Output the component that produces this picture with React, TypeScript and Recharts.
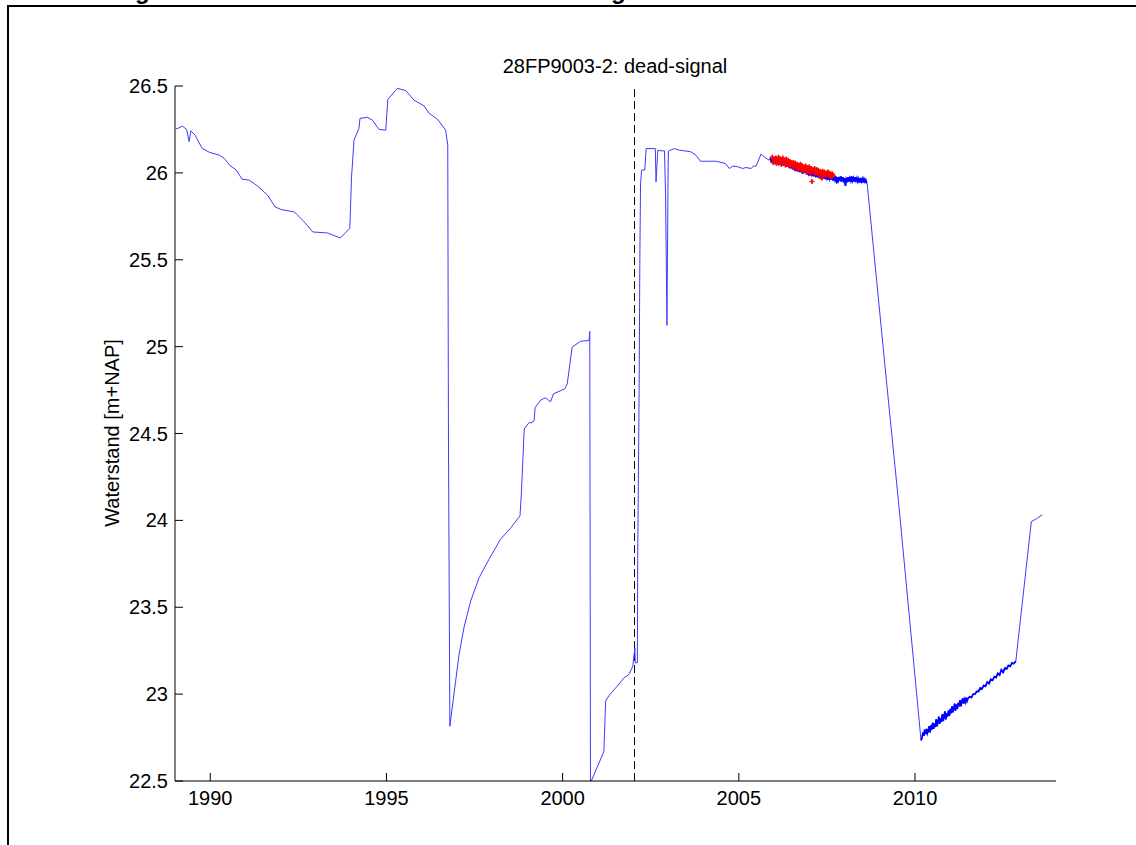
import React from 'react';
import {
  ComposedChart,
  Line,
  Scatter,
  XAxis,
  YAxis,
  ReferenceLine,
} from 'recharts';

// measured series, [year, level m+NAP]
const before1997: [number, number][] = [
  [1989.03, 26.255], [1989.08, 26.256], [1989.21, 26.269], [1989.33, 26.25], [1989.4, 26.18],
  [1989.45, 26.242], [1989.57, 26.217], [1989.77, 26.141], [1989.98, 26.118], [1990.26, 26.102],
  [1990.4, 26.083], [1990.55, 26.044], [1990.74, 26.016], [1990.9, 25.964], [1991.11, 25.958],
  [1991.35, 25.923], [1991.63, 25.871], [1991.84, 25.804], [1992.01, 25.789], [1992.39, 25.775],
  [1992.67, 25.717], [1992.91, 25.66], [1993.33, 25.654], [1993.69, 25.625], [1993.96, 25.68],
  [1994.01, 25.977], [1994.08, 26.189], [1994.22, 26.256], [1994.25, 26.314], [1994.46, 26.32],
  [1994.6, 26.304], [1994.79, 26.25], [1994.98, 26.246], [1995.04, 26.423], [1995.31, 26.487],
  [1995.55, 26.473], [1995.78, 26.419], [1996.07, 26.385], [1996.21, 26.343], [1996.45, 26.308],
  [1996.68, 26.246], [1996.74, 26.16], [1996.76, 24.48], [1996.8, 22.815],
];

const recovery1997: [number, number][] = [
  [1997.06, 23.228], [1997.2, 23.382], [1997.39, 23.536], [1997.63, 23.67], [1997.91, 23.776],
  [1998.24, 23.892], [1998.53, 23.958], [1998.79, 24.026], [1998.83, 24.16], [1998.91, 24.526],
  [1999.05, 24.564], [1999.1, 24.56], [1999.19, 24.574], [1999.22, 24.65], [1999.38, 24.693],
  [1999.45, 24.7], [1999.52, 24.705], [1999.6, 24.69], [1999.66, 24.683], [1999.74, 24.728],
  [2000.06, 24.757], [2000.13, 24.785], [2000.27, 24.997], [2000.51, 25.031], [2000.75, 25.035],
  [2000.77, 25.087], [2000.78, 23.78], [2000.79, 22.49],
];

const recovery2001: [number, number][] = [
  [2000.89, 22.536], [2001.17, 22.67], [2001.22, 22.96], [2001.31, 22.99], [2001.55, 23.046],
  [2001.74, 23.093], [2001.88, 23.113], [2001.99, 23.16], [2002.05, 23.266], [2002.06, 23.18],
  [2002.12, 23.18], [2002.13, 23.77], [2002.17, 24.747], [2002.19, 25.478], [2002.21, 25.93],
  [2002.24, 26.016], [2002.33, 26.016], [2002.37, 26.14], [2002.63, 26.14], [2002.65, 25.948],
  [2002.7, 26.13], [2002.78, 26.127], [2002.89, 26.127], [2002.92, 25.88], [2002.96, 25.122],
  [2002.99, 25.958], [2003.0, 26.125], [2003.17, 26.14],
];

const plateau2003: [number, number][] = [
  [2003.31, 26.13], [2003.46, 26.127], [2003.64, 26.121], [2003.78, 26.102], [2003.91, 26.067],
  [2004.35, 26.067], [2004.62, 26.054], [2004.73, 26.025], [2004.83, 26.039], [2004.97, 26.035],
  [2005.11, 26.025], [2005.2, 26.031], [2005.35, 26.025], [2005.41, 26.039], [2005.49, 26.039],
  [2005.63, 26.108], [2005.72, 26.092], [2005.86, 26.073],
];

// logger period, noisy daily values
const logger2006: [number, number][] = [
  [2005.9, 26.085], [2005.925, 26.06], [2005.95, 26.08], [2005.975, 26.055], [2006.0, 26.075],
  [2006.025, 26.06], [2006.05, 26.085], [2006.075, 26.05], [2006.1, 26.07], [2006.125, 26.055],
  [2006.15, 26.075], [2006.175, 26.045], [2006.2, 26.07], [2006.225, 26.05], [2006.25, 26.065],
  [2006.275, 26.04], [2006.3, 26.06], [2006.325, 26.045], [2006.35, 26.065], [2006.375, 26.035],
  [2006.4, 26.055], [2006.425, 26.03], [2006.45, 26.05], [2006.475, 26.035], [2006.5, 26.05],
  [2006.525, 26.02], [2006.55, 26.045], [2006.575, 26.025], [2006.6, 26.04], [2006.625, 26.01],
  [2006.65, 26.04], [2006.675, 26.015], [2006.7, 26.035], [2006.725, 26.005], [2006.75, 26.03],
  [2006.775, 26.01], [2006.8, 26.025], [2006.825, 25.995], [2006.85, 26.02], [2006.875, 26.0],
  [2006.9, 26.02], [2006.925, 25.99], [2006.95, 26.015], [2006.975, 25.995], [2007.0, 26.01],
  [2007.025, 25.985], [2007.05, 26.01], [2007.075, 25.99], [2007.1, 26.005], [2007.125, 25.98],
  [2007.15, 26.0], [2007.175, 25.985], [2007.2, 26.0], [2007.225, 25.975], [2007.25, 25.995],
  [2007.275, 25.98], [2007.3, 25.995], [2007.325, 25.97], [2007.35, 25.99], [2007.375, 25.975],
  [2007.4, 25.995], [2007.425, 25.965], [2007.45, 25.985], [2007.475, 25.97], [2007.5, 25.99],
  [2007.525, 25.96], [2007.55, 25.985], [2007.575, 25.965], [2007.6, 25.98], [2007.625, 25.96],
  [2007.65, 25.985], [2007.675, 25.955], [2007.7, 25.975], [2007.725, 25.96], [2007.75, 25.98],
  [2007.775, 25.94], [2007.8, 25.975], [2007.825, 25.955], [2007.85, 25.97], [2007.875, 25.96],
  [2007.9, 25.98], [2007.925, 25.95], [2007.95, 25.975], [2007.975, 25.955], [2008.0, 25.97],
  [2008.025, 25.925], [2008.05, 25.965], [2008.075, 25.955], [2008.1, 25.975], [2008.125, 25.95],
  [2008.15, 25.97], [2008.175, 25.955], [2008.2, 25.98], [2008.225, 25.955], [2008.25, 25.97],
  [2008.275, 25.95], [2008.3, 25.975], [2008.325, 25.955], [2008.35, 25.97], [2008.375, 25.95],
  [2008.4, 25.965], [2008.425, 25.945], [2008.45, 25.97], [2008.475, 25.95], [2008.5, 25.965],
  [2008.525, 25.945], [2008.55, 25.965], [2008.575, 25.95], [2008.6, 25.96], [2008.625, 25.94],
];

const drop2009: [number, number][] = [
  [2008.64, 25.94], [2008.91, 25.381], [2009.19, 24.8], [2009.53, 24.11], [2010.17, 22.734],
];

const logger2011: [number, number][] = [
  [2010.17, 22.734], [2010.2, 22.75], [2010.225, 22.78], [2010.25, 22.76], [2010.275, 22.795],
  [2010.3, 22.77], [2010.325, 22.8], [2010.35, 22.775], [2010.375, 22.79], [2010.4, 22.815],
  [2010.425, 22.78], [2010.45, 22.82], [2010.475, 22.795], [2010.5, 22.835], [2010.525, 22.8],
  [2010.55, 22.83], [2010.575, 22.81], [2010.6, 22.855], [2010.625, 22.815], [2010.65, 22.84],
  [2010.675, 22.87], [2010.7, 22.83], [2010.725, 22.86], [2010.75, 22.84], [2010.775, 22.885],
  [2010.8, 22.845], [2010.825, 22.875], [2010.85, 22.9], [2010.875, 22.855], [2010.9, 22.89],
  [2010.925, 22.87], [2010.95, 22.905], [2010.975, 22.875], [2011.0, 22.915], [2011.025, 22.89],
  [2011.05, 22.93], [2011.075, 22.895], [2011.1, 22.92], [2011.125, 22.945], [2011.15, 22.905],
  [2011.175, 22.94], [2011.2, 22.915], [2011.225, 22.95], [2011.25, 22.93], [2011.275, 22.965],
  [2011.3, 22.93], [2011.325, 22.955], [2011.35, 22.975], [2011.375, 22.945], [2011.4, 22.97],
  [2011.425, 22.955], [2011.45, 22.98], [2011.475, 22.96], [2011.5, 22.975], [2011.55, 22.985],
  [2011.6, 22.98], [2011.65, 23.0], [2011.7, 23.0], [2011.75, 23.015], [2011.8, 23.015],
  [2011.85, 23.035], [2011.9, 23.03], [2011.95, 23.05], [2012.0, 23.045], [2012.05, 23.07],
  [2012.1, 23.06], [2012.15, 23.085], [2012.2, 23.08], [2012.25, 23.1], [2012.3, 23.095],
  [2012.35, 23.12], [2012.4, 23.11], [2012.45, 23.14], [2012.5, 23.125], [2012.55, 23.15],
  [2012.6, 23.145], [2012.65, 23.165], [2012.7, 23.16], [2012.75, 23.18], [2012.8, 23.175],
  [2012.86, 23.19],
];

const rise2013: [number, number][] = [
  [2013.3, 23.993], [2013.45, 24.01], [2013.61, 24.032],
];

// points flagged as dead signal
const flagged: [number, number][] = [
  [2005.95, 26.09], [2005.975, 26.06], [2006.0, 26.08], [2006.025, 26.065], [2006.05, 26.085],
  [2006.075, 26.055], [2006.1, 26.075], [2006.125, 26.09], [2006.15, 26.06], [2006.175, 26.08],
  [2006.2, 26.05], [2006.225, 26.075], [2006.25, 26.085], [2006.275, 26.055], [2006.3, 26.07],
  [2006.325, 26.045], [2006.35, 26.08], [2006.375, 26.06], [2006.4, 26.07], [2006.425, 26.04],
  [2006.45, 26.065], [2006.475, 26.05], [2006.5, 26.06], [2006.525, 26.035], [2006.55, 26.06],
  [2006.575, 26.045], [2006.6, 26.055], [2006.625, 26.03], [2006.65, 26.05], [2006.675, 26.02],
  [2006.7, 26.045], [2006.725, 26.03], [2006.75, 26.05], [2006.775, 26.02], [2006.8, 26.04],
  [2006.825, 26.01], [2006.85, 26.035], [2006.875, 26.025], [2006.9, 26.04], [2006.925, 26.005],
  [2006.95, 26.03], [2006.975, 26.015], [2007.0, 26.035], [2007.025, 26.0], [2007.05, 26.025],
  [2007.075, 25.95], [2007.1, 26.02], [2007.125, 26.005], [2007.15, 26.025], [2007.175, 25.995],
  [2007.2, 26.02], [2007.225, 26.0], [2007.25, 26.015], [2007.275, 25.99], [2007.3, 26.01],
  [2007.325, 25.995], [2007.35, 25.97], [2007.375, 26.01], [2007.4, 25.99], [2007.425, 26.005],
  [2007.45, 25.985], [2007.475, 26.0], [2007.5, 25.99], [2007.525, 26.005], [2007.55, 25.985],
  [2007.575, 26.0], [2007.6, 25.99], [2007.625, 25.975], [2007.65, 25.995], [2007.675, 25.985],
];

const sensorChange = 2002.04;
const yearTicks = [1990, 1995, 2000, 2005, 2010];
const levelTicks = [22.5, 23, 23.5, 24, 24.5, 25, 25.5, 26, 26.5];

const FONT = '"Liberation Sans", Arial, Helvetica, sans-serif';

const toPoints = (rows: [number, number][]) => rows.map(([x, y]) => ({ x, y }));

const series = toPoints([
  ...before1997,
  ...recovery1997,
  ...recovery2001,
  ...plateau2003,
  ...logger2006,
  ...drop2009,
  ...logger2011,
  ...rise2013,
]);
// dense logger stretches are drawn a bit heavier, as in the original plot
const loggerA = toPoints(logger2006);
const loggerB = toPoints(logger2011);
const flaggedPoints = toPoints(flagged);

// matlab style: tick marks inside, labels outside
const YTick = (props: any) => {
  const { x, y, payload } = props;
  return (
    <g>
      <line x1={x} y1={y} x2={x + 8} y2={y} stroke="#000" />
      <text x={x - 7} y={y + 7} textAnchor="end" fontSize={20} fontFamily={FONT} fill="#000">
        {payload.value}
      </text>
    </g>
  );
};

const XTick = (props: any) => {
  const { x, y, payload } = props;
  return (
    <g>
      <line x1={x} y1={y} x2={x} y2={y - 8} stroke="#000" />
      <text x={x} y={y + 24} textAnchor="middle" fontSize={20} fontFamily={FONT} fill="#000">
        {payload.value}
      </text>
    </g>
  );
};

// red '+' marker
const Cross = (props: any) => {
  const { cx, cy } = props;
  return (
    <path
      d={`M${cx - 2.5},${cy}H${cx + 2.5}M${cx},${cy - 2.5}V${cy + 2.5}`}
      stroke="#ff0000"
      strokeWidth={1.6}
      fill="none"
    />
  );
};

export default function App() {
  return (
    <div
      style={{
        position: 'fixed',
        left: 0,
        top: 0,
        width: 1136,
        height: 845,
        background: '#fff',
        overflow: 'hidden',
        fontFamily: FONT,
      }}
    >
      {/* frame of the exported figure, with the cut-off heading above it */}
      <div
        style={{
          position: 'absolute',
          left: 7,
          top: 5,
          width: 1200,
          height: 900,
          borderTop: '2px solid #000',
          borderLeft: '2px solid #000',
        }}
      />
      <div style={{ position: 'absolute', left: 135, top: -21, fontSize: 24, lineHeight: '24px', fontWeight: 'bold' }}>g</div>
      <div style={{ position: 'absolute', left: 611, top: -21, fontSize: 24, lineHeight: '24px', fontWeight: 'bold' }}>g</div>

      <div
        style={{
          position: 'absolute',
          left: 415,
          top: 56,
          width: 400,
          textAlign: 'center',
          fontSize: 20,
          lineHeight: '20px',
        }}
      >
        28FP9003-2: dead-signal
      </div>
      <div
        style={{
          position: 'absolute',
          left: 112 - 150,
          top: 433 - 10,
          width: 300,
          textAlign: 'center',
          fontSize: 20,
          lineHeight: '20px',
          transform: 'rotate(-90deg)',
        }}
      >
        Waterstand [m+NAP]
      </div>

      <div style={{ position: 'absolute', left: 0, top: 0 }}>
        <ComposedChart
          width={1136}
          height={845}
          margin={{ top: 86, right: 80, bottom: 34, left: 115 }}
        >
          <XAxis
            type="number"
            dataKey="x"
            domain={[1989, 2014]}
            ticks={yearTicks}
            allowDataOverflow
            height={30}
            tickSize={0}
            tickMargin={0}
            tick={<XTick />}
            axisLine={{ stroke: '#000' }}
            interval={0}
          />
          <YAxis
            type="number"
            dataKey="y"
            domain={[22.5, 26.5]}
            ticks={levelTicks}
            allowDataOverflow
            width={60}
            tickSize={0}
            tickMargin={0}
            tick={<YTick />}
            axisLine={{ stroke: '#000' }}
            interval={0}
          />
          <ReferenceLine x={sensorChange} stroke="#000" strokeDasharray="8 4" />
          <Scatter data={flaggedPoints} dataKey="y" shape={<Cross />} isAnimationActive={false} />
          <Line
            data={series}
            dataKey="y"
            type="linear"
            stroke="#3b3bff"
            strokeWidth={1}
            dot={false}
            activeDot={false}
            isAnimationActive={false}
          />
          <Line
            data={loggerA}
            dataKey="y"
            type="linear"
            stroke="#0000ff"
            strokeWidth={1.8}
            dot={false}
            activeDot={false}
            isAnimationActive={false}
          />
          <Line
            data={loggerB}
            dataKey="y"
            type="linear"
            stroke="#0000ff"
            strokeWidth={1.8}
            dot={false}
            activeDot={false}
            isAnimationActive={false}
          />
        </ComposedChart>
      </div>
    </div>
  );
}
